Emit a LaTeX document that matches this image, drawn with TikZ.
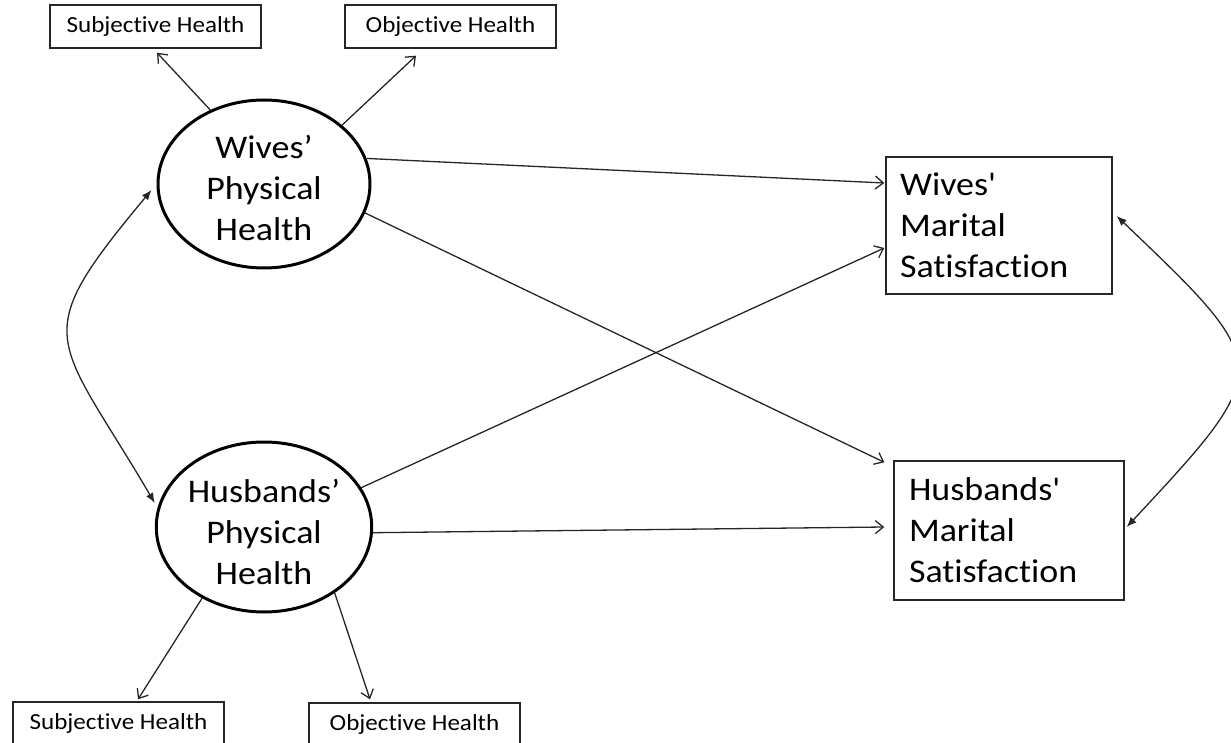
\documentclass[tikz,border=0pt]{standalone}
\usepackage{fontspec}
\setmainfont{Carlito}[FakeStretch=1.09, Ligatures=NoCommon]
\usetikzlibrary{arrows.meta,calc,shapes.geometric}
\begin{document}
\begin{tikzpicture}[x=1pt,y=-1pt,
  indic/.style={draw=black!85, line width=1.4pt, minimum width=211pt, minimum height=43pt, inner sep=0pt, font=\fontsize{23}{28}\selectfont},
  latent/.style={draw=black, ellipse, line width=3pt, inner sep=0pt, minimum width=212pt, align=center, font=\fontsize{33}{41}\selectfont},
  outc/.style={draw=black!85, line width=1.4pt, inner ysep=0pt, align=left, font=\fontsize{33}{41}\selectfont},
  onearrow/.style={draw=black!85, line width=1.3pt, -{Straight Barb[length=8pt,width=13pt,line width=1.3pt]}},
  cov/.style={draw=black!85, line width=1.3pt, {Latex[length=10pt,width=8pt]}-{Latex[length=10pt,width=8pt]}}
]
\useasboundingbox (0,0) rectangle (1231,743);
\clip (0,0) rectangle (1231,743);

% indicator boxes
\node[indic] (ts) at (155.5,26.5) {Subjective Health};
\node[indic] (to) at (450.5,26.5) {Objective Health};
\node[indic] (bs) at (118.5,723.5) {Subjective Health};
\node[indic] (bo) at (414.5,724.5) {Objective Health};

% latent variables
\node[latent, minimum height=168pt] (wph) at (264,184) {\rule{0pt}{32pt}Wives’\\Physical\\Health};
\node[latent, minimum height=170pt] (hph) at (264,527) {\rule{0pt}{33pt}Husbands’\\Physical\\Health};

% outcomes
\node[outc, inner xsep=14pt, text width=198pt, minimum height=137pt] (wms) at (999,225.5)
  {Wives\textquotesingle\\Marital\\Satisfaction};
\node[outc, inner xsep=15pt, text width=200pt, minimum height=139pt] (hms) at (1009,530.5)
  {Husbands\textquotesingle\\Marital\\Satisfaction};

% measurement arrows
\draw[onearrow] (wph.126) -- ($(ts.south)+(1.5,4)$);
\draw[onearrow] (wph.37) -- ($(to.south)+(-34.5,7)$);
\draw[onearrow] (hph.229) -- ($(bs.north)+(19.5,-2)$);
\draw[onearrow] (hph.-43) -- ($(bo.north)+(-44.5,-3)$);

% structural paths
\draw[onearrow] (wph.14) -- ($(wms.west)+(-1,-42.5)$);
\draw[onearrow] (wph.-16) -- ($(hms.north west)+(-9,2)$);
\draw[onearrow] (hph.22) -- ($(wms.west)+(-1,22.5)$);
\draw[onearrow] (hph.-3) -- ($(hms.west)+(-9,-3.5)$);

% covariances
\draw[cov] ($(wph.west)+(-5,6)$) .. controls +(-125,150) and +(-100,-170) .. ($(hph.west)+(0,-24)$);
\draw[cov] ($(wms.east)+(4,-9.5)$) .. controls +(158,151) and +(149,-160) .. ($(hms.east)+(2,-3.5)$);
\end{tikzpicture}
\end{document}
